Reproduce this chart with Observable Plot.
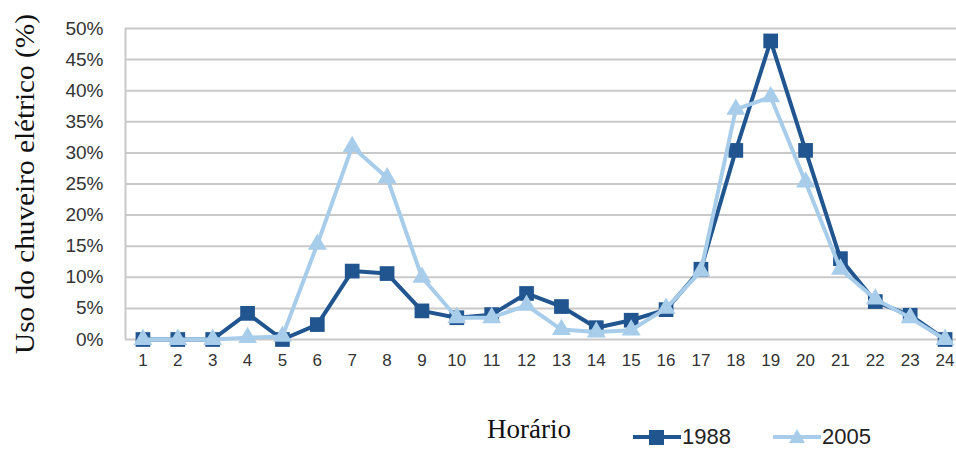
<!DOCTYPE html>
<html>
<head>
<meta charset="utf-8">
<script src="https://cdn.jsdelivr.net/npm/d3@7"></script>
<script src="https://cdn.jsdelivr.net/npm/@observablehq/plot@0.6"></script>
<style>
  html, body { margin: 0; padding: 0; background: #fff; }
  #wrap { position: relative; width: 956px; height: 450px; overflow: hidden; }
  #chart svg { display: block; }
  .leg { position: absolute; top: 422px; height: 30px; display: flex; align-items: center; }
  .leg span { font-family: "Liberation Sans", Arial, sans-serif; font-size: 22px; color: #222; }
  #xtitle { position: absolute; top: 414px; left: 487px; font-family: "Liberation Serif", "Times New Roman", serif; font-size: 27px; color: #111; }
</style>
</head>
<body>
<div id="wrap">
  <div id="chart"></div>
  <div id="xtitle">Horário</div>
  <div class="leg" style="left:632px"><svg width="50" height="30"><line x1="1" x2="49" y1="15" y2="15" stroke="#21558f" stroke-width="4"/><rect x="17" y="8" width="15" height="15" fill="#21558f"/></svg><span>1988</span></div>
  <div class="leg" style="left:772px"><svg width="50" height="30"><line x1="1" x2="49" y1="15" y2="15" stroke="#a8cdea" stroke-width="4"/><path d="M25,7 L33,21 L17,21 Z" fill="#a8cdea"/></svg><span>2005</span></div>
</div>
<script>
const hours = [1,2,3,4,5,6,7,8,9,10,11,12,13,14,15,16,17,18,19,20,21,22,23,24];
const v1988 = [0,0,0,4.2,0,2.4,11,10.6,4.6,3.5,4,7.4,5.3,1.9,3.1,4.8,11.3,30.4,48,30.4,13,6.1,3.9,0];
const v2005 = [0,0,0,0.3,0.5,15.3,31,26,10,3.5,3.5,5.5,1.6,1.2,1.5,5,11,37,39,25.3,11.3,6.5,3.5,0];
const yTicks = [0,5,10,15,20,25,30,35,40,45,50];
const yTitle = "Uso do chuveiro elétrico (%)";

const dark = "#21558f", light = "#a8cdea";
const d88 = hours.map((h,i) => ({h, v: v1988[i] / 100}));
const d05 = hours.map((h,i) => ({h, v: v2005[i] / 100}));

const chart = Plot.plot({
  width: 956,
  height: 400,
  marginLeft: 125,
  marginRight: 0,
  marginTop: 28,
  marginBottom: 61,
  style: { fontFamily: "'Liberation Sans', Arial, sans-serif", background: "#fff" },
  x: { type: "linear", domain: [0.5, 24.5], range: [125, 962] },
  y: { domain: [0, 0.5], range: [339, 28] },
  marks: [
    Plot.ruleY(yTicks.map(t => t / 100), { stroke: "#c9c9c9", strokeWidth: 2 }),
    Plot.ruleX([0.5], { y1: 0, y2: 0.5, stroke: "#c9c9c9", strokeWidth: 2 }),
    Plot.axisY(yTicks.map(t => t / 100), {
      tickSize: 0, tickPadding: 22, tickFormat: d3.format(".0%"),
      fontSize: 19, fill: "#333", label: null
    }),
    Plot.axisX(hours, {
      tickSize: 0, tickPadding: 14, tickFormat: d => String(d),
      fontSize: 17, fill: "#333", label: null
    }),
    Plot.text([yTitle], {
      frameAnchor: "left", dx: -100, rotate: -90, textAnchor: "middle",
      fontFamily: "'Liberation Serif', 'Times New Roman', serif",
      fontSize: 28, fill: "#111", className: "ytitle"
    }),
    Plot.line(d88, { x: "h", y: "v", stroke: dark, strokeWidth: 4 }),
    Plot.dot(d88, { x: "h", y: "v", symbol: "square", r: 8.3, fill: dark }),
    Plot.line(d05, { x: "h", y: "v", stroke: light, strokeWidth: 4 }),
    Plot.dot(d05, { x: "h", y: "v", symbol: "triangle", r: 7, fill: light })
  ]
});
document.getElementById("chart").appendChild(chart);
const t = chart.querySelector(".ytitle text");
if (t) { t.setAttribute("textLength", "340"); t.setAttribute("lengthAdjust", "spacingAndGlyphs"); }
</script>
</body>
</html>
